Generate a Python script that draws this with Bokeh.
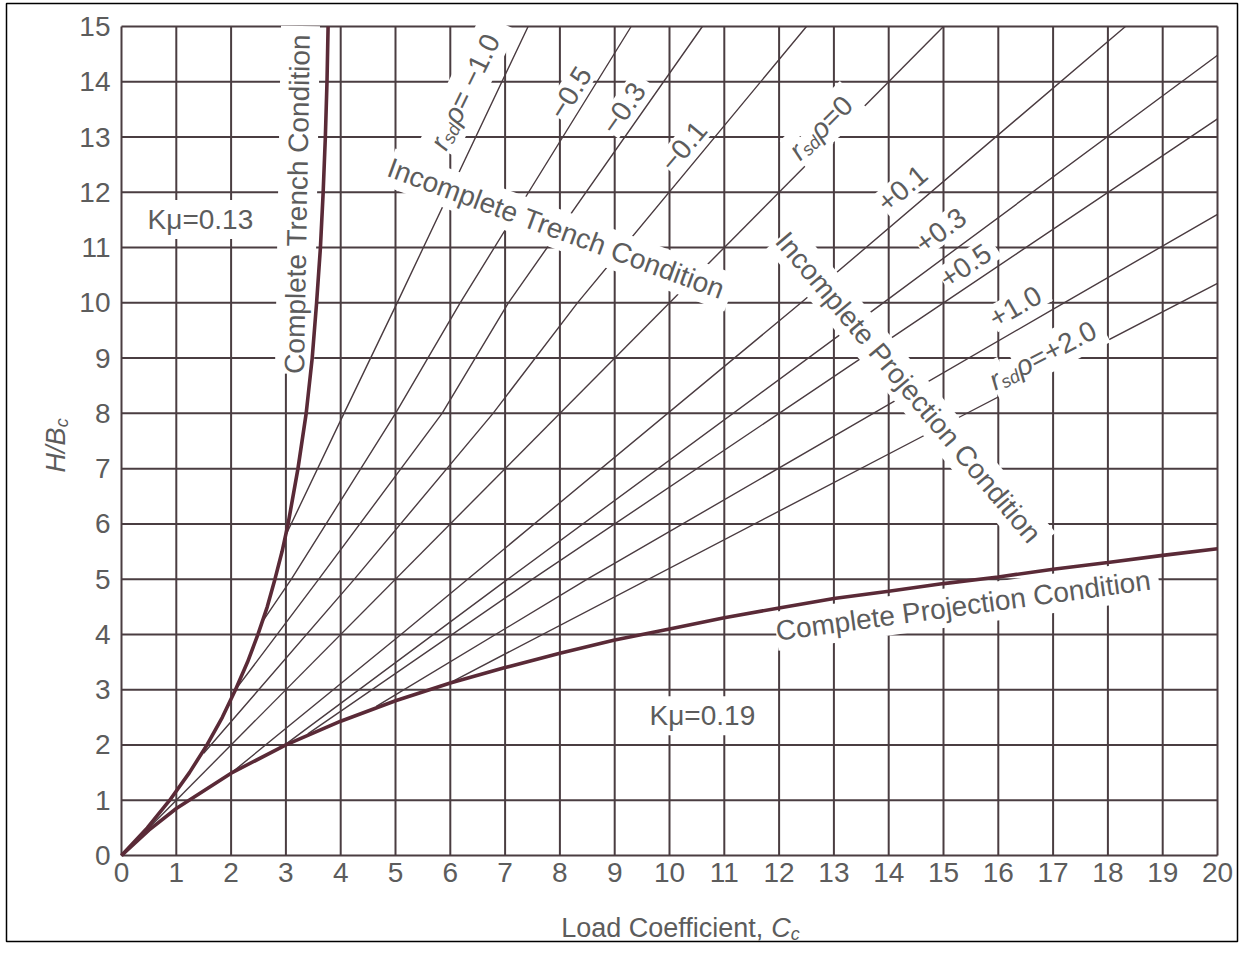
import math
from bokeh.plotting import figure
from bokeh.models import Range1d, Label, BoxAnnotation
from bokeh.core.properties import value
from bokeh.embed import file_html
from bokeh.resources import INLINE

# ---------------- data ----------------
x_ticks = list(range(0, 21))
y_ticks = list(range(0, 16))
x_tick_labels = [str(t) for t in x_ticks]
y_tick_labels = [str(t) for t in y_ticks]

# Complete Trench Condition (Ku = 0.13)
trench_y = [0, 0.5, 1, 1.5, 2, 2.5, 3, 3.5, 4, 4.5, 5, 5.5, 6, 7, 8, 9, 10, 11, 12, 13, 14, 15]
trench_x = [0, 0.47, 0.88, 1.24, 1.56, 1.84, 2.08, 2.30, 2.49, 2.66, 2.80, 2.93, 3.04, 3.22,
            3.37, 3.48, 3.56, 3.63, 3.68, 3.72, 3.75, 3.77]

# Complete Projection Condition (Ku = 0.19)
proj_x = [0, 0.5, 1, 2, 3, 4, 5, 6, 7, 8, 9, 10, 11, 12, 13, 14, 15, 16, 17, 18, 19, 20]
proj_y = [0, 0.46, 0.85, 1.49, 2.00, 2.43, 2.80, 3.12, 3.40, 3.66, 3.90, 4.10, 4.30, 4.48,
          4.65, 4.78, 4.92, 5.04, 5.18, 5.30, 5.43, 5.55]

# incomplete condition lines, one per rsd*p value
m10_x = [3.00, 4.06, 5.03, 7.42];        m10_y = [5.8, 8, 10, 15]
m05_x = [2.55, 3.10, 5.00, 6.18, 9.30];  m05_y = [4.2, 5, 8, 10, 15]
m03_x = [2.08, 3.60, 5.85, 7.06, 10.60]; m03_y = [3.0, 5, 8, 10, 15]
m01_x = [1.50, 4.25, 6.78, 8.32, 12.50]; m01_y = [1.85, 5, 8, 10, 15]
z00_x = [0, 15.0];                       z00_y = [0, 15]
p01_x = [1.95, 5.10, 12.40, 18.32];      p01_y = [1.45, 4.0, 10, 15]
p03_x = [2.95, 7.05, 13.90, 20.0];       p03_y = [1.98, 5, 10, 14.48]
p05_x = [3.40, 7.50, 15.00, 20.0];       p05_y = [2.20, 5, 10, 13.33]
p10_x = [4.65, 8.50, 17.20, 20.0];       p10_y = [2.70, 5, 10, 11.60]
p20_x = [6.00, 15.19, 20.0];             p20_y = [3.13, 7.88, 10.35]

thin_lines = [(m10_x, m10_y), (m05_x, m05_y), (m03_x, m03_y), (m01_x, m01_y), (z00_x, z00_y),
              (p01_x, p01_y), (p03_x, p03_y), (p05_x, p05_y), (p10_x, p10_y), (p20_x, p20_y)]

# ---------------- style ----------------
W, H = 1239, 943
FL, FR, FT, FB = 121, 22, 26, 88          # position of the 0..20 x 0..15 grid in the canvas
SX = (W - FL - FR) / 20.0
SY = (H - FT - FB) / 15.0
GRID = "#4a3d41"
THIN = "#4a3b40"
THICK = "#5a2a37"
TXT = "#5c5c5c"
FONT = "Liberation Sans"
FS = 28

p = figure(width=W, height=H,
           x_range=Range1d(-FL / SX, (W - FL) / SX),
           y_range=Range1d(-FB / SY, (H - FB) / SY),
           output_backend="svg", toolbar_location=None, title=None,
           x_axis_location=None, y_axis_location=None,
           min_border=0)
p.background_fill_color = "white"
p.border_fill_color = "white"
p.outline_line_color = None
p.grid.visible = False

# thin frame round the whole picture
p.add_layout(BoxAnnotation(left=(6 - FL) / SX, right=(W - 2 - FL) / SX,
                           top=(H - FB - 3) / SY, bottom=-(FB - 2) / SY,
                           fill_alpha=0, line_color="black", line_width=1.5, line_alpha=1))

# grid drawn from the tick arrays
gx0 = x_ticks + [x_ticks[0]] * len(y_ticks)
gx1 = x_ticks + [x_ticks[-1]] * len(y_ticks)
gy0 = [y_ticks[0]] * len(x_ticks) + y_ticks
gy1 = [y_ticks[-1]] * len(x_ticks) + y_ticks
grid_r = p.segment(gx0, gy0, gx1, gy1, line_color=GRID, line_width=2)
grid_r.level = "underlay"

# tick labels
p.text(x=x_ticks, y=[-7 / SY] * len(x_ticks), text=x_tick_labels, text_align="center",
       text_baseline="top", text_font=value(FONT), text_font_size=f"{FS}px", text_color=TXT)
p.text(x=[-11 / SX] * len(y_ticks), y=y_ticks, text=y_tick_labels, text_align="right",
       text_baseline="middle", text_font=value(FONT), text_font_size=f"{FS}px", text_color=TXT)

for lx, ly in thin_lines:
    p.line(lx, ly, line_color=THIN, line_width=1.4)

r1 = p.line(trench_x, trench_y, line_color=THICK, line_width=3.6)
r2 = p.line(proj_x, proj_y, line_color=THICK, line_width=3.6)
r1.level = "overlay"
r2.level = "overlay"

ADV = {' ': .278, '0': .556, '1': .556, '2': .556, '3': .556, '4': .556, '5': .556, '6': .556,
       '7': .556, '8': .556, '9': .556, '.': .278, '=': .584, '+': .584, '\u2212': .584, '-': .333,
       'r': .333, 's': .5, 'd': .556, '\u03c1': .58, 'C': .722, 'o': .556, 'm': .833, 'p': .556,
       'l': .222, 'e': .556, 't': .278, 'T': .611, 'n': .556, 'c': .5, 'h': .556, 'i': .222,
       'I': .278, 'P': .667, 'j': .222, 'K': .667, '\u03bc': .577, 'L': .556, 'a': .556, 'f': .278,
       ',': .278, 'H': .722, '/': .278, 'B': .667}

bg_labels = []
fg_labels = []


def seg_label(cx, cy, angle, segs, size=FS, bg=True):
    a = math.radians(angle)
    dx, dy = math.cos(a), math.sin(a)
    qx, qy = math.sin(a), -math.cos(a)
    widths = []
    for t, it, sub in segs:
        s = size * 0.66 if sub else size
        widths.append(sum(ADV.get(ch, .556) for ch in t) * s)
    tot = sum(widths)
    X0 = cx * SX - dx * tot / 2
    Y0 = cy * SY - dy * tot / 2
    adv = 0.0
    for (t, it, sub), w in zip(segs, widths):
        s = size * 0.66 if sub else size
        off = 0.22 * size if sub else 0.0
        X = X0 + dx * adv + qx * off
        Y = Y0 + dy * adv + qy * off
        kw = dict(x=X / SX, y=Y / SY, text=t, angle=angle, angle_units="deg",
                  text_align="left", text_baseline="alphabetic",
                  text_font_size=f"{s:.0f}px", text_font=FONT,
                  text_font_style="italic" if it else "normal")
        if bg:
            bg_labels.append(Label(text_color="white", background_fill_color="white",
                                   background_fill_alpha=1, padding=4, **kw))
        fg_labels.append(Label(text_color=TXT, **kw))
        adv += w


def label(cx, cy, angle, text, size=FS, bg=True):
    seg_label(cx, cy, angle, [(text, False, False)], size, bg)


label(3.21, 11.80, 89, "Complete Trench Condition")
label(1.44, 11.51, 0, "K\u03bc=0.13")
label(10.60, 2.53, 0, "K\u03bc=0.19")
label(7.94, 11.34, -20.3, "Incomplete Trench Condition")
label(14.36, 8.47, -50, "Incomplete Projection Condition")
label(15.36, 4.52, 7.8, "Complete Projection Condition")
seg_label(6.30, 13.88, 64, [("r", True, False), ("sd", True, True), ("\u03c1", True, False),
                             (" = \u22121.0", False, False)])
label(8.19, 13.80, 58, "\u22120.5")
label(9.16, 13.52, 55, "\u22120.3")
label(10.26, 12.83, 50, "\u22120.1")
seg_label(12.76, 13.17, 45, [("r", True, False), ("sd", True, True), ("\u03c1", True, False),
                              ("=0", False, False)])
label(14.25, 12.07, 40, "+0.1")
label(14.95, 11.31, 36, "+0.3")
label(15.40, 10.67, 34, "+0.5")
label(16.31, 9.93, 30, "+1.0")
seg_label(16.81, 9.05, 27.5, [("r", True, False), ("sd", True, True), ("\u03c1", True, False),
                               ("=+2.0", False, False)])

# axis titles
seg_label(10.20, -1.32, 0, [("Load Coefficient, ", False, False), ("C", True, False),
                            ("c", True, True)], size=27, bg=False)
seg_label(-1.20, 7.42, 90, [("H/B", True, False), ("c", True, True)], size=27, bg=False)

for lb in bg_labels + fg_labels:
    p.add_layout(lb)

open("out.html", "w").write(file_html(p, INLINE))
